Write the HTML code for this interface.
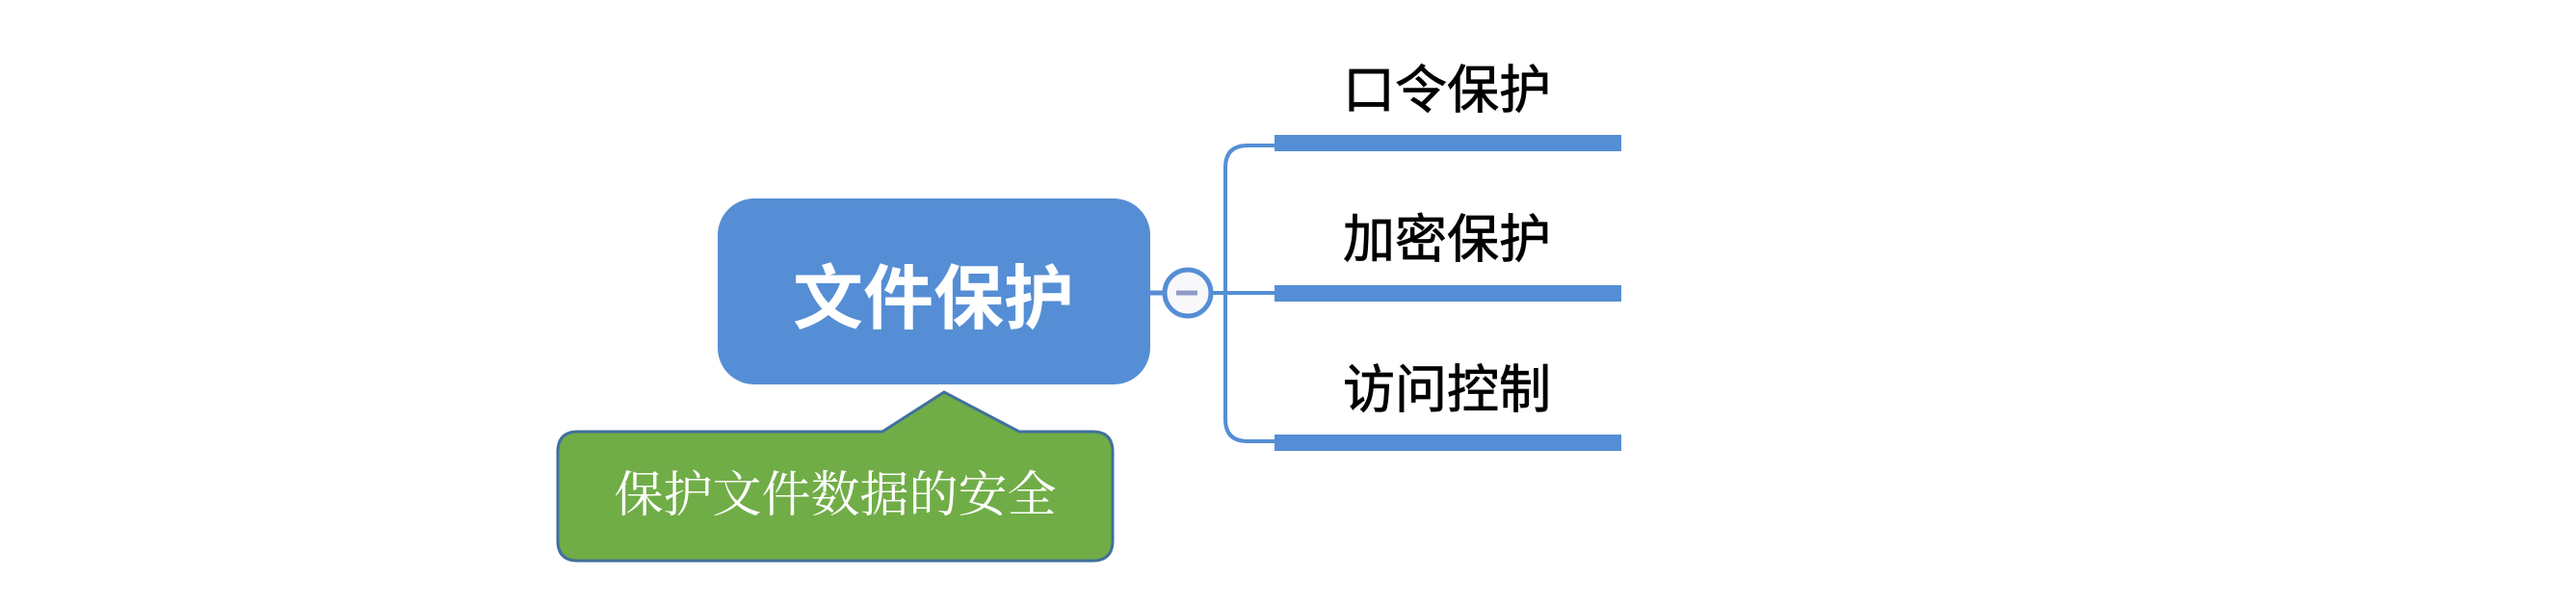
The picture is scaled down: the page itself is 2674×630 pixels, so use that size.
<!DOCTYPE html>
<html><head><meta charset="utf-8"><style>
html,body{margin:0;padding:0;background:#fff;}
svg{display:block;}
</style></head><body>
<svg width="2674" height="630" viewBox="0 0 2674 630" xmlns="http://www.w3.org/2000/svg">
<rect width="2674" height="630" fill="#fff"/>
<rect x="745" y="206" width="449" height="193" rx="38" fill="#558ED5"/>
<text x="969" y="335" text-anchor="middle" font-family="Liberation Sans, Noto Sans CJK SC, sans-serif" font-weight="bold" font-size="73" fill="#fff">文件保护</text>
<line x1="1194" y1="304" x2="1208" y2="304" stroke="#558ED5" stroke-width="5"/>
<circle cx="1233" cy="304" r="24" fill="#f8f8fa" stroke="#558ED5" stroke-width="5"/>
<line x1="1221" y1="304" x2="1243" y2="304" stroke="#8E9BC8" stroke-width="5"/>
<line x1="1258" y1="304" x2="1323" y2="304" stroke="#558ED5" stroke-width="4"/>
<path d="M1323 151 H1295 Q1272 151 1272 174 V435 Q1272 458 1295 458 H1323" fill="none" stroke="#558ED5" stroke-width="4"/>
<rect x="1323" y="140" width="360" height="17" fill="#558ED5"/>
<rect x="1323" y="296" width="360" height="17" fill="#558ED5"/>
<rect x="1323" y="451" width="360" height="17" fill="#558ED5"/>
<g font-family="Liberation Sans, Noto Sans CJK SC, sans-serif" font-size="54" fill="#000" text-anchor="middle" stroke="#000" stroke-width="0.8">
<text x="1502" y="112">口令保护</text>
<text x="1502" y="267">加密保护</text>
<text x="1502" y="423">访问控制</text>
</g>
<path d="M600 448 H916 L980 407 L1058 448 H1134 Q1155 448 1155 469 V561 Q1155 582 1134 582 H600 Q579 582 579 561 V469 Q579 448 600 448 Z" fill="#70AD47" stroke="#41719C" stroke-width="3"/>
<text x="867" y="531" text-anchor="middle" font-family="Liberation Serif, Noto Serif CJK SC, serif" font-size="51" fill="#fff">保护文件数据的安全</text>
</svg>
</body></html>
